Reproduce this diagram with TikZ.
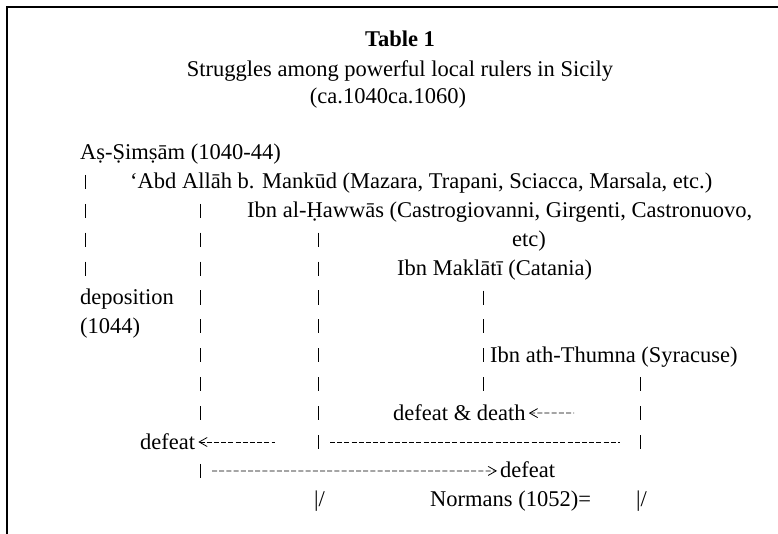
\documentclass[tikz,border=0pt]{standalone}
\usepackage{fontspec}
\setmainfont{Liberation Serif}
\usetikzlibrary{arrows.meta}

\tikzset{
  txt/.style={anchor=base west, inner sep=0pt, font=\fontsize{22.5}{27}\selectfont},
  head/.style={anchor=base, inner sep=0pt, font=\fontsize{22.5}{27}\selectfont},
  lifeline/.style={line width=0.9pt, dash pattern=on 14pt off 14.9pt},
  hyph/.style={line width=0.8pt, dash pattern=on 5pt off 2.2pt},
  barb/.tip={Straight Barb[length=8pt,width=9pt,line width=0.8pt]},
}

\begin{document}
\begin{tikzpicture}[x=1pt,y=-1pt]
\useasboundingbox (0,0) rectangle (778,534);
%\draw[step=50,gray,very thin] (0,0) grid (778,534); %background grid

% frame
\draw[line width=1.6pt] (778,7) -- (7,7) -- (7,534);

% heading
\node[head,font=\fontsize{22.5}{27}\selectfont\bfseries] (title) at (400,47) {Table 1};
\node[head] (sub) at (400,77) {Struggles among powerful local rulers in Sicily};
\node[head] (dates) at (388,104) {(ca.1040ca.1060)};

% rulers
\node[txt] (simsam)  at (80,160)    {A\d{s}-\d{S}im\d{s}\={a}m (1040-44)};
\node[txt] (abd)     at (130,188.9) {‘Abd All\={a}h b. Mank\={u}d (Mazara, Trapani, Sciacca, Marsala, etc.)};
\node[txt] (hawwas)  at (247,217.8) {Ibn al-\d{H}aww\={a}s (Castrogiovanni, Girgenti, Castronuovo,};
\node[txt] (etc)     at (512,246.7) {etc)};
\node[txt] (maklati) at (397,275.6) {Ibn Makl\={a}t\={\i} (Catania)};
\node[txt] (thumna)  at (490,362.3) {Ibn ath-Thumna (Syracuse)};

% fates
\node[txt] (depos)   at (80,304.5)  {deposition};
\node[txt] (deposyr) at (80,333.4)  {(1044)};
\node[txt] (death)   at (393,420.1) {defeat \& death};
\node[txt] (defeatA) at (140,449)   {defeat};
\node[txt] (defeatB) at (500,477.9) {defeat};
\node[txt] (normans) at (430,506.8) {Normans (1052)=};
\node[txt] (downC)   at (314,506.8) {|/};
\node[txt] (downE)   at (636,506.8) {|/};

% lifelines
\coordinate (c1top) at (85,174.9);  \coordinate (c1end) at (85,275.6);
\coordinate (c2top) at (200,203.8); \coordinate (c2end) at (200,420.1);
\coordinate (c3top) at (318,232.7); \coordinate (c3end) at (318,449);
\coordinate (c4top) at (483,290.5); \coordinate (c4end) at (483,391.2);
\coordinate (c5top) at (640,377.2); \coordinate (c5end) at (640,449);
\draw[lifeline] (c1top) -- (c1end);
\draw[lifeline] (c2top) -- (c2end);
\draw[lifeline] (c3top) -- (c3end);
\draw[lifeline] (c4top) -- (c4end);
\draw[lifeline] (c5top) -- (c5end);
\draw[lifeline] (200,463.9) -- (200,477.9);

% arrows
\coordinate (tailD) at (574,413);
\coordinate (tailA) at (275,442);
\draw[hyph,{barb}-] ([xshift=3pt,yshift=7pt]death.base east) -- (tailD);
\draw[hyph,{barb}-] ([xshift=3pt,yshift=7pt]defeatA.base east) -- (tailA);
\draw[hyph] (330,442) -- (620,442);
\draw[hyph,-{barb}] (212,471) -- ([xshift=-3pt,yshift=7pt]defeatB.base west);
\end{tikzpicture}
\end{document}
